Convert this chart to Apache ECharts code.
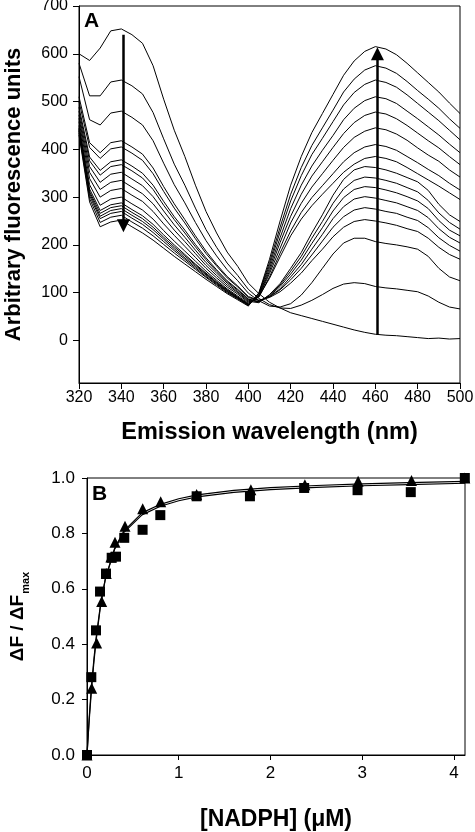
<!DOCTYPE html>
<html><head><meta charset="utf-8">
<script src="https://cdn.jsdelivr.net/npm/echarts@6/dist/echarts.min.js"></script>
<style>html,body{margin:0;padding:0;background:#fff}#c{width:475px;height:832px}</style>
</head><body><div id="c"></div>
<script>
// ---------- Panel A: emission spectra ----------
const wavelengths = [320,325,330,335,340,345,350,355,360,365,370,375,380,385,390,395,400,405,410,415,420,425,430,435,440,445,450,455,460,465,470,475,480,485,490,495,500];
const curve0  = [600,586,612,648,652,640,622,575,505,440,385,325,270,225,185,155,120,98,80,68,58,52,46,40,34,28,22,17,13,11,10,8,6,4,5,3,4];
const curve1  = [580,512,512,541,545,533,516,477,422,369,325,277,232,195,162,136,107,88,75,68,67,74,84,96,109,118,121,119,113,110,108,105,102,93,80,70,66];
const curve2  = [552,462,451,476,480,467,451,418,371,326,288,247,209,177,148,125,99,83,72,70,77,95,121,151,181,204,214,214,207,203,200,196,191,176,151,133,125];
const curve3  = [510,414,393,414,418,405,390,361,322,286,253,219,187,159,134,114,92,84,90,102,120,141,167,191,217,237,249,253,250,246,241,234,228,214,195,180,170];
const curve4  = [500,404,381,401,405,392,377,349,312,277,246,213,182,156,131,112,90,84,91,106,127,151,179,208,237,259,273,278,275,270,266,258,251,236,215,199,187];
const curve5  = [488,384,356,374,378,365,350,325,291,259,231,201,173,148,125,107,87,81,92,108,133,159,191,222,255,280,296,301,298,293,288,280,272,257,234,216,204];
const curve6  = [480,376,346,364,368,355,340,316,283,253,225,196,169,145,123,105,86,81,93,113,139,168,203,236,271,299,316,322,320,315,309,301,292,276,251,231,219];
const curve7  = [472,364,331,348,352,338,324,301,271,242,216,189,163,141,120,102,84,81,95,116,145,176,214,249,287,317,335,342,340,335,329,320,311,293,267,247,233];
const curve8  = [465,352,316,331,335,321,307,286,258,231,207,182,157,136,116,100,82,79,96,119,151,184,225,263,304,337,357,364,362,357,350,341,332,314,285,263,249];
const curve9  = [458,339,300,314,318,304,291,270,244,220,197,174,151,131,112,97,80,92,130,175,219,254,282,306,329,352,369,381,385,381,374,362,349,336,323,309,295];
const curve10 = [450,326,283,296,300,286,273,254,230,208,187,166,145,126,108,93,78,91,133,183,229,268,299,324,349,374,393,405,410,406,398,385,372,358,345,329,315];
const curve11 = [445,317,272,284,288,274,261,243,221,200,180,160,141,123,106,91,76,92,140,193,246,287,321,349,377,404,425,438,445,441,432,419,403,388,375,357,342];
const curve12 = [443,312,266,278,282,268,255,237,216,196,177,158,139,121,105,90,76,94,145,205,260,306,344,374,404,433,456,471,478,474,464,450,434,418,403,385,368];
const curve13 = [440,308,260,272,276,262,249,232,212,192,173,155,137,120,103,89,75,95,151,215,276,325,365,398,429,462,486,502,510,506,496,480,464,447,430,411,393];
const curve14 = [438,303,255,266,270,256,243,226,207,188,170,152,134,118,102,88,74,98,157,227,292,345,389,423,458,493,519,536,545,540,530,514,496,478,460,440,420];
const curve15 = [434,297,247,258,262,248,235,219,201,183,166,149,132,116,100,87,73,99,163,237,306,362,408,445,482,520,547,566,575,570,559,542,523,505,486,464,444];
const curve16 = [430,290,238,248,252,238,225,210,193,176,160,144,128,113,98,85,72,100,170,250,325,385,435,475,515,555,585,605,615,610,598,580,560,540,520,497,475];
const spectra = [curve0,curve1,curve2,curve3,curve4,curve5,curve6,curve7,curve8,curve9,curve10,curve11,curve12,curve13,curve14,curve15,curve16];
const arrowDown = [[341, 640], [341, 240]];
const arrowUp = [[461, 12], [461, 600]];
const yTicksA = [0,100,200,300,400,500,600,700];

// ---------- Panel B: titration ----------
const nadphSq = [0,0.047,0.098,0.142,0.207,0.269,0.316,0.406,0.606,0.799,1.195,1.776,2.367,2.949,3.529,4.118];
const dfSq    = [0,0.281,0.45,0.59,0.655,0.712,0.716,0.784,0.813,0.866,0.934,0.934,0.964,0.956,0.949,1.0];
const nadphTri = [0,0.051,0.105,0.160,0.21,0.26,0.305,0.414,0.607,0.803,1.195,1.786,2.375,2.955,3.537,4.118];
const dfTri    = [0,0.241,0.404,0.554,0.655,0.715,0.768,0.826,0.889,0.914,0.940,0.958,0.976,0.988,0.991,1.0];
const fitX   = [0,0.025,0.05,0.075,0.1,0.15,0.2,0.3,0.4,0.6,0.8,1.0,1.2,1.6,2.0,2.5,3.0,3.5,4.12];
const fitTri = [0,0.13,0.24,0.335,0.415,0.545,0.635,0.745,0.808,0.874,0.905,0.925,0.939,0.955,0.965,0.973,0.979,0.983,0.988];
const fitSq  = [0,0.14,0.255,0.345,0.425,0.55,0.637,0.742,0.803,0.867,0.898,0.918,0.932,0.948,0.958,0.966,0.972,0.976,0.981];
const xTicksB = [0,1,2,3,4];

const FONT = '"Liberation Sans", Arial, sans-serif';
const chart = echarts.init(document.getElementById('c'), null, {renderer: 'canvas'});
const zip = (xs, ys) => xs.map((x, i) => [x, ys[i]]);

const axisCommon = {
  axisLine: {show: true, onZero: false, lineStyle: {color: '#000', width: 1}},
  axisTick: {show: true, inside: false, length: 6, lineStyle: {color: '#000', width: 1}},
  splitLine: {show: false},
  nameLocation: 'middle'
};

const series = [];
spectra.forEach((c) => {
  series.push({
    type: 'line', xAxisIndex: 0, yAxisIndex: 0, data: zip(wavelengths, c),
    showSymbol: false, symbol: 'none', smooth: false, silent: true,
    lineStyle: {color: '#000', width: 1}, z: 2
  });
});
series.push({
  type: 'lines', coordinateSystem: 'cartesian2d', xAxisIndex: 0, yAxisIndex: 0,
  data: [{coords: arrowDown}, {coords: arrowUp}],
  symbol: ['none', 'triangle'], symbolSize: 13, silent: true,
  lineStyle: {color: '#000', width: 2.5, opacity: 1}, itemStyle: {color: '#000'}, z: 5
});
series.push({type: 'line', xAxisIndex: 1, yAxisIndex: 1, data: zip(fitX, fitTri), showSymbol: false, symbol: 'none', lineStyle: {color: '#000', width: 1.2}, silent: true, z: 2});
series.push({type: 'line', xAxisIndex: 1, yAxisIndex: 1, data: zip(fitX, fitSq), showSymbol: false, symbol: 'none', lineStyle: {color: '#000', width: 1.2}, silent: true, z: 2});
series.push({type: 'scatter', xAxisIndex: 1, yAxisIndex: 1, data: zip(nadphTri, dfTri), symbol: 'triangle', symbolSize: 11, itemStyle: {color: '#000', opacity: 1}, silent: true, z: 4});
series.push({type: 'scatter', xAxisIndex: 1, yAxisIndex: 1, data: zip(nadphSq, dfSq), symbol: 'rect', symbolSize: 10, itemStyle: {color: '#000', opacity: 1}, silent: true, z: 4});

chart.setOption({
  animation: false,
  backgroundColor: '#fff',
  textStyle: {fontFamily: FONT, color: '#000'},
  grid: [
    {left: 79, top: 6, width: 381, height: 377, show: true, borderColor: '#000', borderWidth: 1, backgroundColor: 'transparent', outerBoundsMode: 'none', containLabel: false},
    {left: 87, top: 478, width: 378, height: 277, show: true, borderColor: '#000', borderWidth: 1, backgroundColor: 'transparent', outerBoundsMode: 'none', containLabel: false}
  ],
  xAxis: [
    Object.assign({}, axisCommon, {
      type: 'value', gridIndex: 0, min: 320, max: 500, interval: 20,
      axisLabel: {fontSize: 16, color: '#000', fontFamily: FONT, margin: 7, showMinLabel: true, showMaxLabel: true},
      name: 'Emission wavelength (nm)', nameGap: 38,
      nameTextStyle: {fontSize: 23.5, fontWeight: 'bold', color: '#000', fontFamily: FONT}
    }),
    Object.assign({}, axisCommon, {
      type: 'value', gridIndex: 1, min: 0, max: 4.12, interval: 1,
      axisTick: {show: true, inside: false, length: 5, lineStyle: {color: '#000'}, customValues: xTicksB},
      axisLabel: {fontSize: 17, color: '#000', fontFamily: FONT, margin: 10, customValues: xTicksB},
      name: '[NADPH] (\u03BCM)', nameGap: 53,
      nameTextStyle: {fontSize: 23, fontWeight: 'bold', color: '#000', fontFamily: FONT}
    })
  ],
  yAxis: [
    Object.assign({}, axisCommon, {
      type: 'value', gridIndex: 0, min: -89, max: 700,
      axisTick: {show: true, inside: false, length: 6, lineStyle: {color: '#000'}, customValues: yTicksA},
      axisLabel: {fontSize: 16, color: '#000', fontFamily: FONT, margin: 11, customValues: yTicksA},
      name: 'Arbitrary fluorescence units', nameGap: 54, nameRotate: 90,
      nameTextStyle: {fontSize: 22, fontWeight: 'bold', color: '#000', fontFamily: FONT}
    }),
    Object.assign({}, axisCommon, {
      type: 'value', gridIndex: 1, min: 0, max: 1, interval: 0.2,
      axisTick: {show: true, inside: false, length: 5, lineStyle: {color: '#000'}},
      axisLabel: {fontSize: 17, color: '#000', fontFamily: FONT, margin: 12, formatter: v => v.toFixed(1)},
      name: '{a|\u0394F / \u0394F}{b|max}', nameGap: 60, nameRotate: 90,
      nameTextStyle: {color: '#000', fontFamily: FONT,
        rich: {a: {fontSize: 19, fontWeight: 'bold', fontFamily: FONT, color: '#000'},
               b: {fontSize: 11, fontWeight: 'bold', fontFamily: FONT, color: '#000', verticalAlign: 'bottom', padding: [0,0,-4,1]}}}
    })
  ],
  graphic: [
    {type: 'text', left: 84, top: 11, style: {text: 'A', font: 'bold 21px ' + FONT, fill: '#000'}, z: 10},
    {type: 'text', left: 92, top: 484, style: {text: 'B', font: 'bold 21px ' + FONT, fill: '#000'}, z: 10}
  ],
  series: series
});
</script></body></html>
